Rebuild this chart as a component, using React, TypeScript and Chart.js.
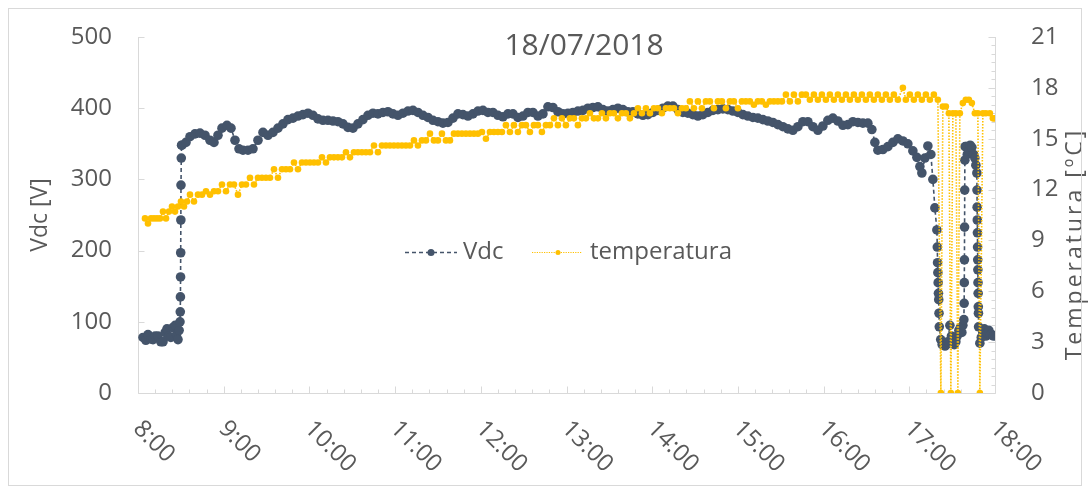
import React, { useEffect, useRef } from "react";
import { Chart, registerables } from "chart.js";

Chart.register(...registerables);

const chartTitle = "18/07/2018";
const leftAxisTitle = "Vdc [V]";
const rightAxisTitle = "Temperatura [ºC]";
const vdcLabel = "Vdc";
const tempLabel = "temperatura";

// x axis: minutes after 8:00
const hourLabels = ["8:00", "9:00", "10:00", "11:00", "12:00", "13:00", "14:00", "15:00", "16:00", "17:00", "18:00"];
const vdcTicks = [0, 100, 200, 300, 400, 500];
const tempTicks = [0, 3, 6, 9, 12, 15, 18, 21];

const vdcMinutes = [
  3.5, 5.5, 7, 9, 10.5, 12, 14, 16, 17.5, 19, 20.3, 21.5, 23, 24.5, 26, 27, 28, 28.8, 29.4,
  29.6, 29.7, 29.8, 29.9, 30.0, 30.1, 30.3, 30.5,
  30.8, 33.6, 36.4, 39.9, 43.4, 46.9, 50.4, 53.2, 56, 58.8, 62.3, 65.1, 67.9, 70.7, 73.5, 77, 80.5, 84, 87.5, 91, 94.5, 98,
  101.5, 105, 108.5, 112, 115.5, 119, 122.5, 126, 129.5, 133, 136.5, 140, 143.5, 147, 150.5, 154, 157.5, 161, 164.5, 168,
  171.5, 175, 178.5, 182, 185.5, 189, 192.5, 196, 199.5, 203, 206.5, 210, 213.5, 217, 220.5, 224, 227.5, 231, 234.5, 238,
  241.5, 245, 248.5, 252, 255.5, 259, 262.5, 266, 269.5, 273, 276.5, 280, 283.5, 287, 290.5, 294, 297.5, 301, 304.5, 308,
  311.5, 315, 318.5, 322, 325.5, 329, 332.5, 336, 339.5, 343, 346.5, 350, 353.5, 357, 360.5, 364, 367.5, 371, 374.5, 378,
  381.5, 385, 388.5, 392, 395.5, 399, 402.5, 406, 409.5, 413, 416.5, 420, 423.5, 427, 430.5, 434, 437.5, 441, 444.5, 448,
  451.5, 455, 458.5, 462, 465.5, 469, 472.5, 476, 479.5, 483, 486.5, 490, 493.5, 497, 500.5, 504, 507.5, 511, 513.8, 515.9,
  518, 521.5, 525, 528.5, 532, 535.5, 539, 542.5, 545.3, 547.4, 548.8, 550.9, 553, 555.1, 556.5, 557.9, 559.3,
  559.6, 559.8, 560, 560.2, 560.4, 560.6, 560.8, 561, 562, 563, 564, 565, 566, 567, 568.4, 569.5, 570.5, 571.5, 572.6,
  573.5, 574.7, 575.8, 576.8, 577.5, 578.2, 578.4, 578.5, 578.6, 578.7, 578.8, 578.9, 579.1, 579.8, 580.6, 581.7, 582.6,
  583.8, 585, 585.9, 586.6, 587.3, 587.4, 587.5, 587.6, 587.7, 587.8, 587.9, 588, 588.1, 588.2, 588.3, 588.4, 588.5,
  589.4, 590.4, 591.5, 592.5, 593.6, 594.6, 595.7, 596.7, 597.8, 599,
];
const vdcValues = [
  78, 74, 82, 76, 75, 80, 80, 72, 72, 85, 90, 80, 78, 92, 95, 82, 75, 88, 100,
  114, 135, 163, 197, 243, 292, 330, 348,
  348, 352, 360, 364, 365, 362, 355, 352, 362, 372, 376, 372, 355, 343, 341, 341, 343, 355, 366, 362, 366, 372,
  378, 384, 386, 389, 391, 393, 390, 385, 383, 383, 382, 381, 378, 373, 372, 378, 384, 390, 393, 392,
  394, 395, 392, 390, 393, 396, 397, 394, 390, 387, 383, 381, 379, 380, 386, 392, 391, 389, 392, 396,
  397, 394, 394, 390, 388, 392, 392, 387, 389, 394, 394, 389, 392, 402, 401, 395, 392, 393, 394, 396,
  397, 400, 401, 402, 398, 396, 398, 400, 398, 395, 395, 392, 390, 391, 394, 397, 400, 403, 403, 398,
  394, 393, 391, 389, 391, 394, 397, 398, 399, 398, 396, 394, 391, 389, 387, 386, 384, 382, 380, 377,
  374, 371, 369, 374, 381, 381, 374, 369, 375, 383, 386, 382, 376, 377, 381, 380, 379, 379, 370, 352,
  341, 342, 346, 352, 357, 354, 350, 340, 331, 318, 309, 330, 347, 335, 300, 260, 229,
  205, 183, 169, 155, 140, 131, 112, 93, 75, 68, 70, 66, 68, 72, 95, 80, 70, 68, 72,
  80, 88, 92, 85, 95, 103, 126, 155, 187, 233, 285, 327, 346, 346, 335, 340, 348,
  345, 335, 330, 320, 309, 285, 261, 243, 225, 205, 187, 173, 155, 140, 121, 112, 93,
  70, 78, 85, 90, 80, 84, 88, 82, 82, 80,
];

const tempMinutes = [
  4.9, 7, 9.1, 11.2, 13.3, 15.4, 17.5, 19.6, 21.7, 23.8, 25.9, 28, 30.1, 32.2, 34.3, 36.4, 39.2, 42, 44.8, 47.6,
  50.4, 53.2, 56, 58.8, 61.6, 64.4, 67.2, 70, 72.8, 75.6, 78.4, 81.2, 84, 86.8, 89.6, 92.4, 95.2, 98, 100.8, 103.6,
  106.4, 109.2, 112, 114.8, 117.6, 120.4, 123.2, 126, 128.8, 131.6, 134.4, 137.2, 140, 142.8, 145.6, 148.4, 151.2, 154, 156.8, 159.6,
  162.4, 165.2, 168, 170.8, 173.6, 176.4, 179.2, 182, 184.8, 187.6, 190.4, 193.2, 196, 198.8, 201.6, 204.4, 207.2, 210, 212.8, 215.6,
  218.4, 221.2, 224, 226.8, 229.6, 232.4, 235.2, 238, 240.8, 243.6, 246.4, 249.2, 252, 254.8, 257.6, 260.4, 263.2, 266, 268.8, 271.6,
  274.4, 277.2, 280, 282.8, 285.6, 288.4, 291.2, 294, 296.8, 299.6, 302.4, 305.2, 308, 310.8, 313.6, 316.4, 319.2, 322, 324.8, 327.6,
  330.4, 333.2, 336, 338.8, 341.6, 344.4, 347.2, 350, 352.8, 355.6, 358.4, 361.2, 364, 366.8, 369.6, 372.4, 375.2, 378, 380.8, 383.6,
  386.4, 389.2, 392, 394.8, 397.6, 400.4, 403.2, 406, 408.8, 411.6, 414.4, 417.2, 420, 422.8, 425.6, 428.4, 431.2, 434, 436.8, 439.6,
  442.4, 445.2, 448, 450.8, 453.6, 456.4, 459.2, 462, 464.8, 467.6, 470.4, 473.2, 476, 478.8, 481.6, 484.4, 487.2, 490, 492.8, 495.6,
  498.4, 501.2, 504, 506.8, 509.6, 512.4, 515.2, 518, 520.8, 523.6, 526.4, 529.2, 532, 535.5, 537.6, 540.4, 543.2, 546, 548.8, 551.6,
  554.4, 557.2, 560, 562.1, 563.5, 565.6, 567.7, 569.1, 570.5, 572.6, 574, 575.4, 577.5, 579.6, 581.7, 583.8, 585.9, 588, 589.4, 591.5,
  593.6, 596.4, 598.5, 599.8,
];
const tempValues = [
  10.3, 10.0, 10.3, 10.3, 10.3, 10.3, 10.7, 10.3, 10.7, 11.0, 10.7, 11.0, 11.3, 11.0, 11.3, 11.7, 11.3, 11.7, 11.7, 11.9,
  11.7, 11.9, 11.9, 12.3, 11.9, 12.3, 12.3, 11.7, 12.3, 12.3, 12.7, 12.3, 12.7, 12.7, 12.7, 12.7, 13.2, 12.7, 13.2, 13.2,
  13.2, 13.6, 13.2, 13.6, 13.6, 13.6, 13.6, 13.6, 13.9, 13.6, 13.9, 13.9, 13.9, 13.9, 14.2, 13.9, 14.2, 14.2, 14.2, 14.2,
  14.2, 14.6, 14.2, 14.6, 14.6, 14.6, 14.6, 14.6, 14.6, 14.6, 14.6, 14.9, 14.6, 14.9, 14.9, 15.3, 14.9, 14.9, 15.3, 14.9,
  14.9, 15.3, 15.3, 15.3, 15.3, 15.3, 15.3, 15.3, 15.4, 15.0, 15.4, 15.4, 15.4, 15.4, 15.8, 15.4, 15.8, 15.4, 15.8, 15.8,
  15.4, 15.8, 15.8, 15.4, 15.8, 15.8, 16.2, 15.8, 16.2, 15.8, 16.2, 16.2, 15.8, 16.2, 16.2, 16.5, 16.2, 16.2, 16.5, 16.2,
  16.5, 16.5, 16.2, 16.5, 16.5, 16.2, 16.5, 16.8, 16.5, 16.8, 16.5, 16.8, 16.8, 16.5, 16.8, 16.8, 16.8, 16.5, 16.8, 16.8,
  17.2, 16.8, 17.2, 16.8, 17.2, 17.2, 16.8, 17.2, 17.2, 16.8, 17.2, 17.2, 16.8, 17.2, 17.2, 17.2, 17.0, 17.2, 17.2, 17.0,
  17.2, 17.2, 17.2, 17.2, 17.6, 17.2, 17.6, 17.2, 17.6, 17.6, 17.3, 17.6, 17.3, 17.6, 17.3, 17.6, 17.3, 17.6, 17.3, 17.6,
  17.3, 17.6, 17.3, 17.6, 17.3, 17.6, 17.3, 17.6, 17.3, 17.6, 17.3, 17.6, 17.3, 18.0, 17.3, 17.6, 17.3, 17.6, 17.3, 17.6,
  17.3, 17.6, 17.3, 0, 16.9, 16.9, 16.5, 0, 16.5, 16.5, 0, 16.5, 17.1, 17.3, 17.3, 17.1, 16.5, 16.5, 0, 16.5,
  16.5, 16.5, 16.2, 16.2,
];

const VDC_COLOR = "#44546A";
const TEMP_COLOR = "#FFC000";
const TEXT_COLOR = "#595959";
const AXIS_COLOR = "#d9d9d9";
const FONT = '"Open Sans", "DejaVu Sans", sans-serif';

const decorPlugin = {
  id: "decor",
  beforeDatasetsDraw(chart: any) {
    const { ctx, chartArea: a, scales } = chart;
    const xs = scales.x, yl = scales.y, yr = scales.y1;
    const seg = (x1: number, y1: number, x2: number, y2: number) => {
      ctx.beginPath();
      ctx.moveTo(x1, y1);
      ctx.lineTo(x2, y2);
      ctx.stroke();
    };
    ctx.save();
    ctx.strokeStyle = AXIS_COLOR;
    ctx.lineWidth = 1;
    const L = Math.round(a.left) + 0.5;
    const R = Math.round(a.right) + 0.5;
    const B = Math.round(a.bottom) + 0.5;
    const T = Math.round(a.top);
    seg(L, T, L, B);
    seg(R, T, R, B);
    seg(L, B, R, B);
    // x ticks: major every hour, minor every 12 minutes
    for (let m = 0; m <= 600; m += 12) {
      const px = Math.round(xs.getPixelForValue(m)) + 0.5;
      seg(px, B, px, B - (m % 60 === 0 ? 7 : 4));
    }
    for (const v of vdcTicks) {
      const py = Math.round(yl.getPixelForValue(v)) + 0.5;
      seg(L, py, L + 6, py);
    }
    for (let t = 0; t <= 21; t += 0.5) {
      const py = Math.round(yr.getPixelForValue(t)) + 0.5;
      seg(R - (t % 3 === 0 ? 7 : 4), py, R, py);
    }
    ctx.restore();
  },
  afterDraw(chart: any) {
    const { ctx, chartArea: a, scales } = chart;
    const xs = scales.x, yl = scales.y, yr = scales.y1;
    ctx.save();
    ctx.fillStyle = TEXT_COLOR;
    // left ticks
    ctx.font = `24px ${FONT}`;
    ctx.textAlign = "right";
    ctx.textBaseline = "middle";
    for (const v of vdcTicks) ctx.fillText(String(v), a.left - 26, yl.getPixelForValue(v));
    ctx.textAlign = "left";
    for (const t of tempTicks) ctx.fillText(String(t), a.right + 36, yr.getPixelForValue(t));
    // x labels rotated
    hourLabels.forEach((lab, i) => {
      const px = xs.getPixelForValue(i * 60);
      ctx.save();
      ctx.translate(px - 1, a.bottom + 32);
      ctx.rotate(Math.PI / 4);
      ctx.textAlign = "left";
      ctx.textBaseline = "middle";
      ctx.fillText(lab, 0, 0);
      ctx.restore();
    });
    // axis titles
    ctx.save();
    ctx.translate(40, 215);
    ctx.rotate(-Math.PI / 2);
    ctx.textAlign = "center";
    ctx.textBaseline = "middle";
    ctx.font = `23px ${FONT}`;
    ctx.fillText(leftAxisTitle, 0, 0);
    ctx.restore();
    ctx.save();
    ctx.translate(1075, 244);
    ctx.rotate(-Math.PI / 2);
    ctx.textAlign = "center";
    ctx.textBaseline = "middle";
    ctx.font = `23px ${FONT}`;
    (ctx as any).letterSpacing = "3px";
    ctx.fillText(rightAxisTitle, 0, 0);
    (ctx as any).letterSpacing = "0px";
    ctx.restore();
    // title
    ctx.font = `30px ${FONT}`;
    ctx.textAlign = "center";
    ctx.textBaseline = "middle";
    ctx.fillText(chartTitle, 584, 46);
    // legend
    const ly = 252.5;
    ctx.lineWidth = 1.5;
    ctx.strokeStyle = VDC_COLOR;
    ctx.setLineDash([4, 3]);
    ctx.beginPath();
    ctx.moveTo(405, ly);
    ctx.lineTo(457, ly);
    ctx.stroke();
    ctx.setLineDash([]);
    ctx.fillStyle = VDC_COLOR;
    ctx.beginPath();
    ctx.arc(431, ly, 3.5, 0, Math.PI * 2);
    ctx.fill();
    ctx.strokeStyle = TEMP_COLOR;
    ctx.lineWidth = 1.2;
    ctx.setLineDash([1.2, 1.2]);
    ctx.beginPath();
    ctx.moveTo(532, ly);
    ctx.lineTo(582, ly);
    ctx.stroke();
    ctx.setLineDash([]);
    ctx.fillStyle = TEMP_COLOR;
    ctx.beginPath();
    ctx.arc(558, ly, 2.5, 0, Math.PI * 2);
    ctx.fill();
    ctx.fillStyle = TEXT_COLOR;
    ctx.font = `24px ${FONT}`;
    ctx.textAlign = "left";
    ctx.textBaseline = "middle";
    ctx.fillText(vdcLabel, 463, ly);
    ctx.fillText(tempLabel, 590, ly);
    // outer frame
    ctx.strokeStyle = AXIS_COLOR;
    ctx.lineWidth = 1;
    ctx.strokeRect(8.5, 8.5, 1073, 477);
    ctx.restore();
  },
};

export default function App() {
  const ref = useRef<HTMLCanvasElement>(null);
  useEffect(() => {
    const vdcData = vdcMinutes.map((m, i) => ({ x: m, y: vdcValues[i] }));
    const tempData = tempMinutes.map((m, i) => ({ x: m, y: tempValues[i] }));
    const chart = new Chart(ref.current!, {
      type: "line",
      data: {
        datasets: [
          {
            label: tempLabel,
            data: tempData,
            yAxisID: "y1",
            order: 0,
            borderColor: TEMP_COLOR,
            backgroundColor: TEMP_COLOR,
            borderWidth: 1.6,
            borderDash: [1.5, 1.5],
            pointRadius: 3.3,
            pointBorderWidth: 0,
            pointBackgroundColor: TEMP_COLOR,
            tension: 0,
          },
          {
            label: vdcLabel,
            data: vdcData,
            yAxisID: "y",
            order: 1,
            borderColor: VDC_COLOR,
            backgroundColor: VDC_COLOR,
            borderWidth: 1.6,
            borderDash: [4, 3],
            pointRadius: 4.8,
            pointBorderWidth: 0,
            pointBackgroundColor: VDC_COLOR,
            tension: 0,
          },
        ],
      },
      options: {
        animation: false,
        responsive: false,
        devicePixelRatio: 1,
        events: [],
        layout: { padding: { left: 138, top: 37, right: 95, bottom: 100 } },
        plugins: { legend: { display: false }, tooltip: { enabled: false }, title: { display: false } },
        scales: {
          x: { type: "linear", min: 0, max: 600, display: false },
          y: { type: "linear", position: "left", min: 0, max: 500, display: false },
          y1: { type: "linear", position: "right", min: 0, max: 21, display: false },
        },
      },
      plugins: [decorPlugin],
    } as any);
    return () => chart.destroy();
  }, []);
  return (
    <div style={{ position: "absolute", left: 0, top: 0, width: 1090, height: 493, background: "#fff" }}>
      <canvas ref={ref} width={1090} height={493} style={{ display: "block", width: 1090, height: 493 }} />
    </div>
  );
}
